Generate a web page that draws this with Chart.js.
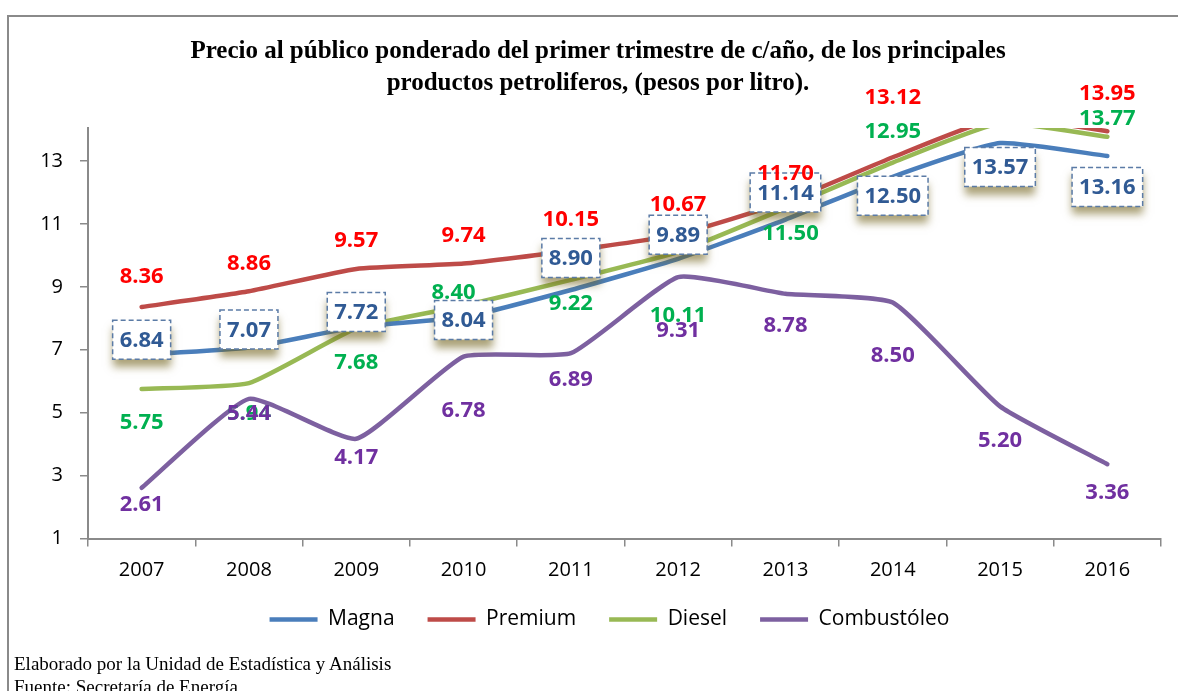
<!DOCTYPE html>
<html>
<head>
<meta charset="utf-8">
<script src="https://cdn.jsdelivr.net/npm/chart.js@4.4.1/dist/chart.umd.min.js"></script>
<style>
  html, body { margin: 0; padding: 0; background: #fff; }
  #wrap { position: relative; width: 1178px; height: 691px; overflow: hidden; }
  #frame { position: absolute; left: 7px; top: 15px; right: -10px; bottom: -10px;
           border-top: 2px solid #8a8a8a; border-left: 2px solid #8a8a8a; }
  #title { position: absolute; left: 0; width: 1196px; top: 34px; text-align: center;
           font: bold 25px "Liberation Serif", "Times New Roman", serif; line-height: 32px; color: #000; }
  .foot { position: absolute; left: 14px; font: 19px "Liberation Serif", "Times New Roman", serif; color: #000; }
  canvas { position: absolute; left: 0; top: 0; }
</style>
</head>
<body>
<div id="wrap">
  <div id="frame"></div>
  <canvas id="chart" width="1178" height="691"></canvas>
  <div id="title">Precio al público ponderado del primer trimestre de c/año, de los principales<br>productos petroliferos, (pesos por litro).</div>
  <div class="foot" style="top:653px">Elaborado por la Unidad de Estadística y Análisis</div>
  <div class="foot" style="top:676px">Fuente: Secretaría de Energía</div>
</div>
<script>
// data
const years = ['2007', '2008', '2009', '2010', '2011', '2012', '2013', '2014', '2015', '2016'];
const magna = [6.84, 7.07, 7.72, 8.04, 8.90, 9.89, 11.14, 12.50, 13.57, 13.16];
const premium = [8.36, 8.86, 9.57, 9.74, 10.15, 10.67, 11.70, 13.12, 14.38, 13.95];
const diesel = [5.75, 5.94, 7.68, 8.40, 9.22, 10.11, 11.50, 12.95, 14.20, 13.77];
const combustoleo = [2.61, 5.44, 4.17, 6.78, 6.89, 9.31, 8.78, 8.50, 5.20, 3.36];
const yTicks = [1, 3, 5, 7, 9, 11, 13];

// label placement (pixel offsets from each point, null = no label)
const labelStyle = [
    { color: '#305a94', box: true,
      off: [[0,-15],[0,-18],[0,-15],[0,3],[0,-32],[0,-24],[0,-27],[0,19],[0,24],[0,31]] },
    { color: '#ff0000',
      off: [[0,-31],[0,-29],[0,-29],[0,-29],[0,-32],[0,-31],[0,-29],[0,-61],null,[0,-38]] },
    { color: '#00b050',
      off: [[0,33],[0,30],[0,33],[-10,-14],[0,23],[0,63],[5,25],[0,-32],null,[0,-19]] },
    { color: '#7030a0',
      off: [[0,16],[0,14],[0,18],[0,53],[0,26],[0,53],[0,31],[0,52],[0,33],[0,27]] }
];

const pointLabels = {
    id: 'pointLabels',
    afterLayout(chart) {
        // legend sits a little right of centre in the original
        chart.legend.left += 25;
        chart.legend.right += 25;
    },
    afterDatasetsDraw(chart) {
        const ctx = chart.ctx;
        ctx.save();
        ctx.font = 'bold 22px "Open Sans", sans-serif';
        ctx.textAlign = 'center';
        ctx.textBaseline = 'middle';
        chart.data.datasets.forEach(function(ds, i) {
            const st = labelStyle[i];
            chart.getDatasetMeta(i).data.forEach(function(pt, j) {
                const o = st.off[j];
                if (!o) return;
                const txt = ds.data[j].toFixed(2);
                const x = pt.x + o[0], y = pt.y + o[1];
                if (st.box) {
                    const w = ctx.measureText(txt).width + 14, h = 39;
                    ctx.save();
                    ctx.shadowColor = 'rgba(115, 100, 30, 0.6)';
                    ctx.shadowBlur = 8;
                    ctx.shadowOffsetY = 8;
                    ctx.fillStyle = '#fff';
                    ctx.fillRect(x - w / 2, y - h / 2, w, h);
                    ctx.restore();
                    ctx.save();
                    ctx.strokeStyle = '#5b7ba6';
                    ctx.lineWidth = 1.5;
                    ctx.setLineDash([5, 3]);
                    ctx.strokeRect(x - w / 2, y - h / 2, w, h);
                    ctx.restore();
                }
                ctx.fillStyle = st.color;
                ctx.fillText(txt, x, y + 1);
            });
        });
        ctx.restore();
    }
};

function line(label, data, color) {
    return {
        label: label,
        data: data,
        borderColor: color,
        backgroundColor: color,
        borderWidth: 4.5,
        pointRadius: 0,
        tension: 0.15,
        borderCapStyle: 'round',
        borderJoinStyle: 'round'
    };
}

new Chart(document.getElementById('chart'), {
    type: 'line',
    data: {
        labels: years,
        datasets: [
            line('Magna', magna, '#4a7ebb'),
            line('Premium', premium, '#be4b48'),
            line('Diesel', diesel, '#98b954'),
            line('Combustóleo', combustoleo, '#7d60a0')
        ]
    },
    options: {
        responsive: false,
        animation: false,
        layout: { padding: { top: 128, left: 8, right: 17, bottom: 51 } },
        plugins: {
            title: { display: false },
            tooltip: { enabled: false },
            legend: {
                position: 'bottom',
                labels: {
                    usePointStyle: true,
                    pointStyle: 'line',
                    boxWidth: 48,
                    pointStyleWidth: 48,
                    padding: 33,
                    color: '#000',
                    font: { family: '"Open Sans", sans-serif', size: 21 }
                }
            }
        },
        scales: {
            x: {
                offset: true,
                grid: { offset: true, drawOnChartArea: false, drawTicks: true, tickLength: 8, color: '#8a8a8a', lineWidth: 1.5 },
                border: { color: '#8a8a8a', width: 2 },
                ticks: { color: '#000', padding: 12, maxRotation: 0, font: { family: '"Open Sans", sans-serif', size: 20 } },
                afterFit(axis) { axis.height = 37.5; }
            },
            y: {
                min: 1,
                max: 14.05,
                afterBuildTicks(axis) { axis.ticks = yTicks.map(v => ({ value: v })); },
                grid: { drawOnChartArea: false, drawTicks: true, tickLength: 8, color: '#8a8a8a', lineWidth: 1.5 },
                border: { color: '#8a8a8a', width: 2 },
                ticks: { color: '#000', padding: 17, font: { family: '"Open Sans", sans-serif', size: 20 } },
                afterFit(axis) { axis.width = 80; }
            }
        }
    },
    plugins: [pointLabels]
});
</script>
</body>
</html>
